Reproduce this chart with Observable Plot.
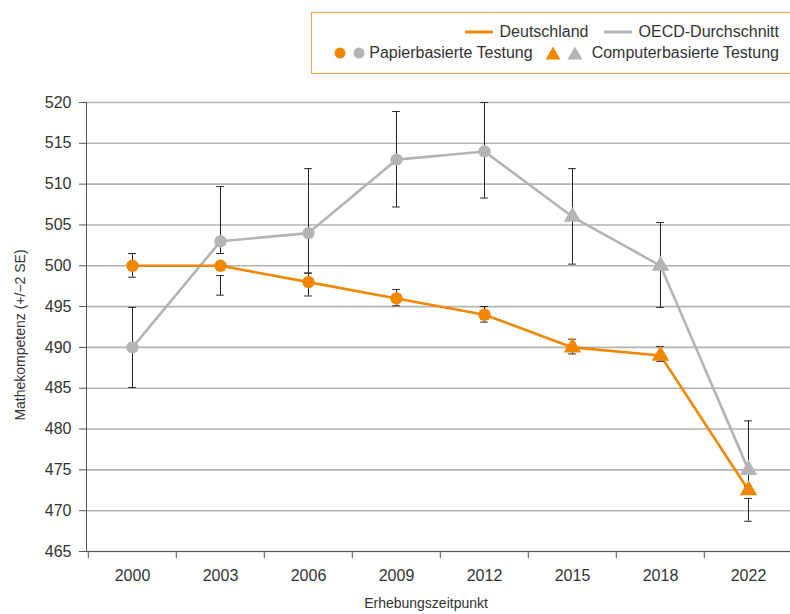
<!DOCTYPE html>
<html>
<head>
<meta charset="utf-8">
<script src="https://cdn.jsdelivr.net/npm/d3@7"></script>
<script src="https://cdn.jsdelivr.net/npm/@observablehq/plot@0.6"></script>
<style>
  html, body { margin: 0; padding: 0; background: #fff; overflow: hidden; }
  body { width: 790px; height: 614px; position: relative; font-family: "Liberation Sans", Arial, sans-serif; color: #333; }
  #legend { position: absolute; left: 311px; top: 12px; right: -10px; height: 62px; border: 1px solid #f6a243; box-sizing: border-box; padding-right: 20px; font-size: 16px; }
  .row { display: flex; justify-content: flex-end; align-items: center; height: 21px; }
  .row1 { margin-top: 8px; }
  .row svg { display: block; }
  #chart { position: absolute; left: 0; top: 90px; }
</style>
</head>
<body>
<div id="legend"></div>
<div id="chart"></div>
<script>
const years = ["2000", "2003", "2006", "2009", "2012", "2015", "2018", "2022"];
const testMode = ["paper", "paper", "paper", "paper", "paper", "computer", "computer", "computer"];
const deValues = [500, 500, 498, 496, 494, 490, 489, 472.5];
const deLow = [498.6, 496.4, 496.3, 495.1, 493.1, 489.2, 488.3, 468.7];
const deHigh = [501.5, 498.8, 499.1, 497.1, 495.0, 491.0, 490.1, 471.5];
const oecdValues = [490, 503, 504, 513, 514, 506, 500, 475];
const oecdLow = [485.1, 501.5, 499.1, 507.2, 508.3, 500.2, 494.9, 473.0];
const oecdHigh = [494.9, 509.7, 511.9, 518.9, 520.0, 511.9, 505.3, 481.0];
const yTicks = [465, 470, 475, 480, 485, 490, 495, 500, 505, 510, 515, 520];
const seriesNames = ["Deutschland", "OECD-Durchschnitt"];
const modeNames = ["Papierbasierte Testung", "Computerbasierte Testung"];

const ORANGE = "#f18700";
const GRAY = "#b4b4b4";

const rows = [];
years.forEach((y, i) => {
  rows.push({series: "OECD-Durchschnitt", year: y, value: oecdValues[i], lo: oecdLow[i], hi: oecdHigh[i], mode: testMode[i]});
});
years.forEach((y, i) => {
  rows.push({series: "Deutschland", year: y, value: deValues[i], lo: deLow[i], hi: deHigh[i], mode: testMode[i]});
});
const oecd = rows.filter(d => d.series === "OECD-Durchschnitt");
const de = rows.filter(d => d.series === "Deutschland");

const W = 790, H = 524, mL = 86, mR = -3, mT = 12, mB = 63;
const bw = (W - mR - mL) / years.length;
const capInset = bw / 2 - 4;

const chart = Plot.plot({
  width: W,
  height: H,
  marginLeft: mL,
  marginRight: mR,
  marginTop: mT,
  marginBottom: mB,
  style: {fontFamily: "Liberation Sans, Arial, sans-serif", fontSize: "16px", color: "#333", overflow: "visible"},
  x: {type: "band", domain: years, padding: 0},
  y: {domain: [465, 520]},
  marks: [
    Plot.ruleY(yTicks, {stroke: "#b3b3b3", strokeWidth: 1.6}),
    Plot.line(oecd, {x: "year", y: "value", stroke: GRAY, strokeWidth: 2.6}),
    Plot.line(de, {x: "year", y: "value", stroke: ORANGE, strokeWidth: 2.6}),
    Plot.ruleX(rows, {x: "year", y1: "lo", y2: "hi", stroke: "#222", strokeWidth: 1}),
    Plot.tickY(rows, {x: "year", y: "lo", stroke: "#222", strokeWidth: 1, insetLeft: capInset, insetRight: capInset}),
    Plot.tickY(rows, {x: "year", y: "hi", stroke: "#222", strokeWidth: 1, insetLeft: capInset, insetRight: capInset}),
    Plot.dot(oecd.filter(d => d.mode === "paper"), {x: "year", y: "value", fill: GRAY, r: 6.2, symbol: "circle"}),
    Plot.dot(oecd.filter(d => d.mode === "computer"), {x: "year", y: "value", fill: GRAY, r: 6.5, symbol: "triangle"}),
    Plot.dot(de.filter(d => d.mode === "paper"), {x: "year", y: "value", fill: ORANGE, r: 6.2, symbol: "circle"}),
    Plot.dot(de.filter(d => d.mode === "computer"), {x: "year", y: "value", fill: ORANGE, r: 6.5, symbol: "triangle"}),
    Plot.frame({anchor: "left", stroke: "#555"}),
    Plot.frame({anchor: "bottom", stroke: "#555"}),
    Plot.axisY({ticks: yTicks, tickSize: 7, tickPadding: 8, stroke: "#555", fill: "#333", label: null}),
    Plot.axisX({tickSize: 7, tickFormat: () => "", dx: -bw / 2, stroke: "#555", label: null}),
    Plot.axisX({tickSize: 0, tickPadding: 18, fill: "#333", label: null}),
    Plot.text(["Erhebungszeitpunkt"], {frameAnchor: "bottom", dy: 56, dx: -14, text: d => d, fontSize: 14, fill: "#333", textAnchor: "middle"}),
    Plot.text(["Mathekompetenz (+/\u22122 SE)"], {frameAnchor: "left", dx: -66, dy: 8, rotate: -90, text: d => d, fontSize: 14, fill: "#333", textAnchor: "middle"})
  ]
});
document.getElementById("chart").appendChild(chart);

// Legend
const legend = document.getElementById("legend");
function lineSwatch(color) {
  return `<svg width="28" height="10"><line x1="0" x2="28" y1="5" y2="5" stroke="${color}" stroke-width="3"/></svg>`;
}
function circleSwatch(color) {
  return `<svg width="12" height="12"><circle cx="6" cy="6" r="5.5" fill="${color}"/></svg>`;
}
function triSwatch(color) {
  return `<svg width="16" height="14"><path d="M8,0.5 L15.5,13.5 L0.5,13.5 Z" fill="${color}"/></svg>`;
}
legend.innerHTML = `
  <div class="row row1">
    ${lineSwatch(ORANGE)}<span style="margin-left:7px">${seriesNames[0]}</span>
    <span style="margin-left:15px"></span>${lineSwatch(GRAY)}<span style="margin-left:7px">${seriesNames[1]}</span>
  </div>
  <div class="row">
    ${circleSwatch(ORANGE)}<span style="margin-left:7px"></span>${circleSwatch(GRAY)}<span style="margin-left:4px">${modeNames[0]}</span>
    <span style="margin-left:12px"></span>${triSwatch(ORANGE)}<span style="margin-left:6px"></span>${triSwatch(GRAY)}<span style="margin-left:9px">${modeNames[1]}</span>
  </div>`;
</script>
</body>
</html>
